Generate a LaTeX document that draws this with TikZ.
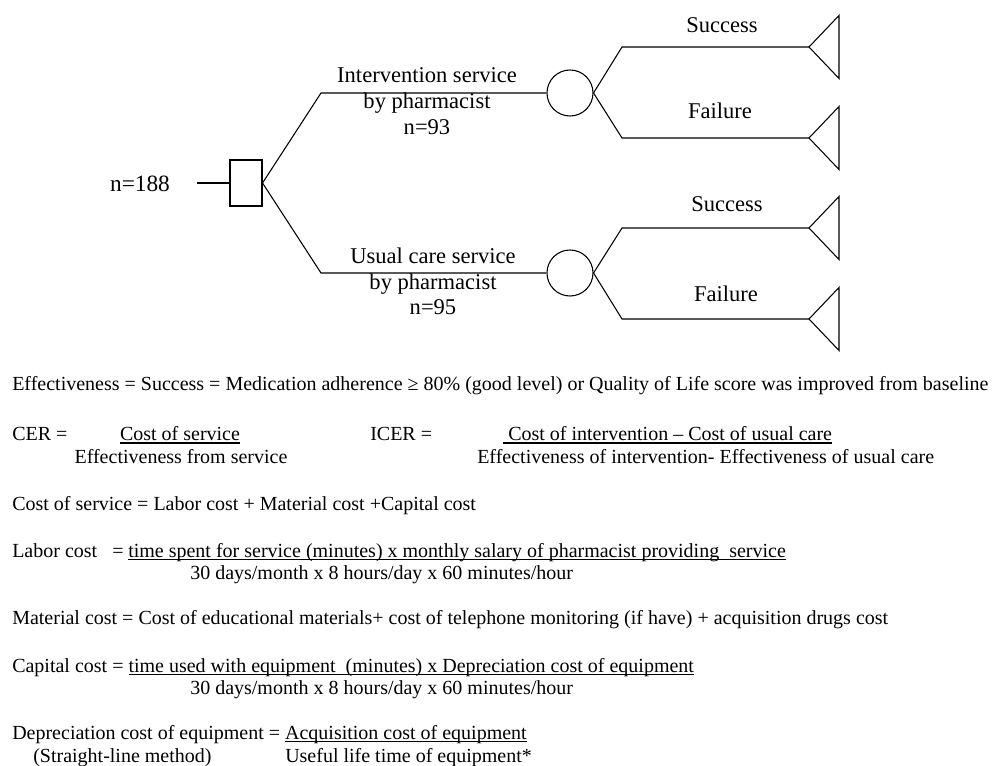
\documentclass[tikz,border=0pt]{standalone}
\usepackage{fontspec}
\setmainfont{Liberation Serif}
\newcommand\uln[1]{\setbox0\hbox{#1}\rlap{\rule[-0.13em]{\wd0}{0.055em}}\box0}
\begin{document}
\begin{tikzpicture}[x=0.75pt,y=-0.75pt,
  conn/.style={draw, line width=0.8pt},
  chance/.style={draw, line width=0.8pt, circle, minimum size=34.5pt, inner sep=0pt},
  decision/.style={draw, line width=0.8pt, rectangle, minimum width=24pt, minimum height=34.5pt, inner sep=0pt},
  leaf/.style={draw, line width=0.8pt, line join=miter},
  treelbl/.style={font=\fontsize{16.9}{19}\selectfont, inner sep=0pt, anchor=base},
  txt/.style={font=\fontsize{15}{17}\selectfont, inner sep=0pt, anchor=base west},
  ctxt/.style={txt, anchor=base}]
\useasboundingbox (0,0) rectangle (993,766);

% ---- decision tree ----
\node[treelbl, font=\fontsize{17.5}{19}\selectfont] (n188) at (140,192) {n=188};
\coordinate (root) at (197,183);
\node[decision] (dn) at (246,183) {};
\coordinate (k1) at (321,93);
\coordinate (k2) at (321,273);
\node[chance] (c1) at (570,93) {};
\node[chance] (c2) at (570,273) {};
\coordinate (k11) at (622,47);
\coordinate (k12) at (622,138);
\coordinate (k21) at (622,228);
\coordinate (k22) at (622,319);
\coordinate (t11) at (809,47);
\coordinate (t12) at (809,138);
\coordinate (t21) at (809,228);
\coordinate (t22) at (809,319);

\draw[conn] (root) -- (dn.west);
\draw[conn] (dn.east) -- (k1) -- (c1.west);
\draw[conn] (dn.east) -- (k2) -- (c2.west);
\draw[conn] (c1.east) -- (k11) -- (t11);
\draw[conn] (c1.east) -- (k12) -- (t12);
\draw[conn] (c2.east) -- (k21) -- (t21);
\draw[conn] (c2.east) -- (k22) -- (t22);
\foreach \t in {t11,t12,t21,t22}
  \draw[leaf] (\t) -- ++(30,-31.5) -- ++(0,63) -- cycle;

\node[treelbl] (l1a) at (427,83) {Intervention service};
\node[treelbl] (l1b) at (427,109) {by pharmacist};
\node[treelbl] (l1c) at (427,135) {n=93};
\node[treelbl] (l2a) at (433,264) {Usual care service};
\node[treelbl] (l2b) at (433,290) {by pharmacist};
\node[treelbl] (l2c) at (433,315) {n=95};
\node[treelbl] (s1) at (722,33) {Success};
\node[treelbl] (f1) at (720,119) {Failure};
\node[treelbl] (s2) at (727,212) {Success};
\node[treelbl] (f2) at (726,302) {Failure};

% ---- formulas ----
\node[txt] (eff) at (12,391) {Effectiveness = Success = Medication adherence ≥ 80\% (good level) or Quality of Life score was improved from baseline};

\node[txt] (cer) at (12,441) {CER =};
\node[ctxt] (cern) at (180,441) {\uln{Cost of service}};
\node[ctxt] (cerd) at (181,464) {Effectiveness from service};
\node[txt] (icer) at (370,441) {ICER =};
\node[txt] (icern) at (503,441) {\uln{\ Cost of intervention – Cost of usual care}};
\node[txt] (icerd) at (477,464) {Effectiveness of intervention- Effectiveness of usual care};

\node[txt] (cos) at (12,511) {Cost of service = Labor cost + Material cost +Capital cost};

\node[txt] (lab) at (12,557) {Labor cost};
\node[txt] (labeq) at (112,557) {=};
\node[txt] (labn) at (128,557) {\uln{time spent for service (minutes) x monthly salary of pharmacist providing\ \ service}};
\node[txt] (labd) at (190,580) {30 days/month x 8 hours/day x 60 minutes/hour};

\node[txt] (mat) at (12,624) {Material cost = Cost of educational materials+ cost of telephone monitoring (if have) + acquisition drugs cost};

\node[txt] (cap) at (12,672) {Capital cost = \uln{time used with equipment\ \ (minutes) x Depreciation cost of equipment}};
\node[txt] (capd) at (190,694) {30 days/month x 8 hours/day x 60 minutes/hour};

\node[txt] (dep) at (12,739) {Depreciation cost of equipment = \uln{Acquisition cost of equipment}};
\node[txt] (sl) at (33,762) {(Straight-line method)};
\node[txt] (depd) at (285,762) {Useful life time of equipment*};
\end{tikzpicture}
\end{document}
